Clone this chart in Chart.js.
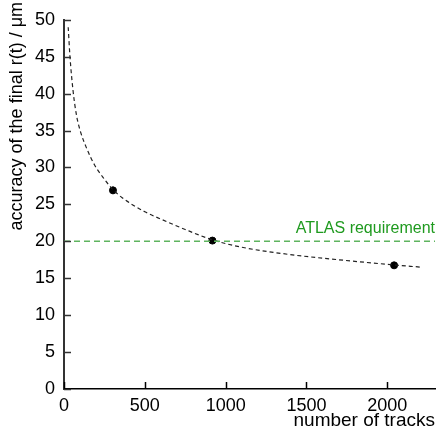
<!DOCTYPE html>
<html>
<head>
<meta charset="utf-8">
<script src="https://cdn.jsdelivr.net/npm/chart.js@4"></script>
<style>
  html, body { margin:0; padding:0; background:#fff; }
  #wrap { width:440px; height:433px; }
</style>
</head>
<body>
<div id="wrap"><canvas id="c" width="440" height="433"></canvas></div>
<script>
// medidas (x = número de trazas, y = precisión en µm)
const trackCounts = [303, 918, 2042]
const accuracy    = [26.9, 20.1, 16.75]
const accErr      = [0.5, 0.4, 0.35]

// curva de ajuste
const fitX = [26, 37, 57, 78, 100, 140, 190, 240, 303, 360, 500, 600, 750, 918, 1100, 1400, 1700, 2042, 2210]
const fitY = [49.0, 45.0, 40.2, 37.0, 35.0, 32.6, 30.3, 28.7, 27.0, 25.9, 24.0, 23.0, 21.6, 20.2, 19.2, 18.2, 17.5, 16.8, 16.5]

const reqX = [0, 2295]
const reqY = [20, 20]
const reqLabel = 'ATLAS requirement'

// ticks
const xTicks = [0, 500, 1000, 1500, 2000]
const yTicks = [0, 5, 10, 15, 20, 25, 30, 35, 40, 45, 50]

const xTitle = 'number of tracks'
const yTitle = 'accuracy of the final r(t) / μm'

const FONT = '"Liberation Sans", Arial, sans-serif'

const toPts = (xs, ys) => xs.map((x, i) => ({ x, y: ys[i] }))

// ticks hacia dentro, barras de error, títulos y etiqueta verde
const extras = {
  id: 'extras',
  afterDatasetsDraw(chart) {
    const { ctx, chartArea: a, scales: { x, y } } = chart
    ctx.save()
    // barras de error
    ctx.strokeStyle = '#000'
    ctx.lineWidth = 1
    trackCounts.forEach((t, i) => {
      const px = x.getPixelForValue(t)
      const y1 = y.getPixelForValue(accuracy[i] - accErr[i])
      const y2 = y.getPixelForValue(accuracy[i] + accErr[i])
      ctx.beginPath(); ctx.moveTo(px, y1); ctx.lineTo(px, y2); ctx.stroke()
    })
    // ticks
    ctx.strokeStyle = '#333'
    ctx.lineWidth = 1.5
    y.ticks.forEach(t => {
      const py = Math.round(y.getPixelForValue(t.value)) + 0.5
      ctx.beginPath(); ctx.moveTo(a.left, py); ctx.lineTo(a.left + 7, py); ctx.stroke()
    })
    ctx.strokeStyle = '#000'
    x.ticks.forEach(t => {
      const px = Math.round(x.getPixelForValue(t.value)) + 0.5
      ctx.beginPath(); ctx.moveTo(px, a.bottom); ctx.lineTo(px, a.bottom - 7); ctx.stroke()
    })
    // etiqueta requisito
    ctx.fillStyle = '#1f9a1f'
    ctx.font = '16px ' + FONT
    ctx.textAlign = 'right'
    ctx.textBaseline = 'alphabetic'
    ctx.fillText(reqLabel, a.right, y.getPixelForValue(reqY[0]) - 8)
    // título eje x
    ctx.fillStyle = '#000'
    ctx.font = '19px ' + FONT
    ctx.fillText(xTitle, a.right, 426)
    // título eje y
    ctx.translate(17, 2)
    ctx.rotate(-Math.PI / 2)
    ctx.font = '18px ' + FONT
    ctx.textAlign = 'right'
    ctx.textBaseline = 'middle'
    ctx.fillText(yTitle, 0, 0)
    ctx.restore()
  }
}

new Chart(document.getElementById('c').getContext('2d'), {
  type: 'scatter',
  data: {
    datasets: [
      {
        label: 'req', type: 'line', data: toPts(reqX, reqY),
        borderColor: 'rgb(95,180,95)', borderWidth: 1.5, borderDash: [6, 4],
        pointRadius: 0, fill: false
      },
      {
        label: 'fit', type: 'line', data: toPts(fitX, fitY),
        borderColor: '#222', borderWidth: 1.2, borderDash: [4, 3],
        pointRadius: 0, fill: false, cubicInterpolationMode: 'monotone'
      },
      {
        label: 'data', data: toPts(trackCounts, accuracy),
        backgroundColor: '#000', borderColor: '#000', pointRadius: 3.5
      }
    ]
  },
  options: {
    responsive: false,
    animation: false,
    layout: { padding: { top: 15, right: 3, left: 0, bottom: 0 } },
    plugins: { legend: { display: false }, tooltip: { enabled: false } },
    scales: {
      x: {
        type: 'linear', min: 0, max: 2295,
        afterBuildTicks: s => { s.ticks = xTicks.map(v => ({ value: v })) },
        afterFit: s => { s.height = 44 },
        grid: { display: false, drawTicks: false },
        border: { display: true, color: '#000', width: 1.5 },
        ticks: { padding: 6, color: '#000', maxRotation: 0, autoSkip: false,
          callback: v => String(v), font: { family: FONT, size: 18 } }
      },
      y: {
        type: 'linear', min: 0, max: 50,
        afterBuildTicks: s => { s.ticks = yTicks.map(v => ({ value: v })) },
        afterFit: s => { s.width = 64 },
        grid: { display: false, drawTicks: false },
        border: { display: true, color: '#333', width: 2 },
        ticks: { padding: 9, color: '#000', autoSkip: false,
          callback: v => String(v), font: { family: FONT, size: 18 } }
      }
    }
  },
  plugins: [extras]
})
</script>
</body>
</html>
